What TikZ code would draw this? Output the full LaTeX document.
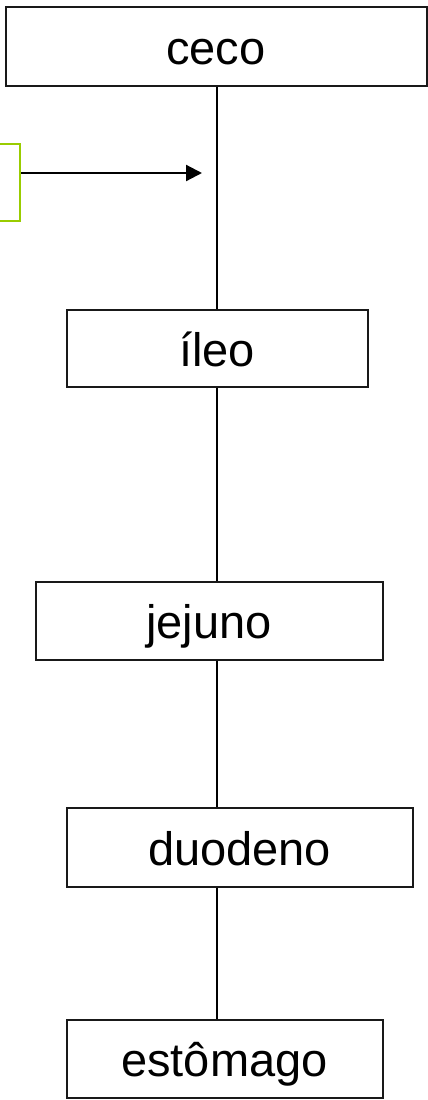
\documentclass[tikz,border=0pt]{standalone}
\usepackage{fontspec}
\setmainfont{Liberation Sans}
\usetikzlibrary{arrows.meta}
\definecolor{lime}{HTML}{99CC00}
\tikzset{
  organ/.style={draw=black!90, line width=2pt, inner sep=0pt, text height=36pt, text depth=0pt,
    font=\fontsize{47}{56}\selectfont},
  conn/.style={draw=black, line width=2.2pt},
}
\begin{document}
\begin{tikzpicture}[x=1pt,y=-1pt]
\useasboundingbox (0,0) rectangle (428,1100);
\node[organ, minimum width=421pt, minimum height=79pt] (ceco) at (216,46) {ceco};
\node[organ, minimum width=301pt, minimum height=77pt] (ileo) at (217,348) {íleo};
\node[organ, minimum width=347pt, minimum height=78pt] (jejuno) at (209,620.5) {jejuno};
\node[organ, minimum width=346pt, minimum height=79pt] (duodeno) at (239.5,847) {duodeno};
\node[organ, minimum width=316pt, minimum height=78pt] (estomago) at (224.5,1058.5) {estômago};
\node[draw=lime, line width=2pt, minimum width=60pt, minimum height=77pt, inner sep=0pt] (src) at (-10,182) {};
\coordinate (tip) at (202,173);
\coordinate (x) at (217,0);
\draw[conn] (x |- ceco.south) -- (x |- ileo.north);
\draw[conn] (x |- ileo.south) -- (x |- jejuno.north);
\draw[conn] (x |- jejuno.south) -- (x |- duodeno.north);
\draw[conn] (x |- duodeno.south) -- (x |- estomago.north);
\draw[conn, -{Triangle[length=16pt,width=16pt]}] (src.east |- tip) -- (tip);
\end{tikzpicture}
\end{document}
